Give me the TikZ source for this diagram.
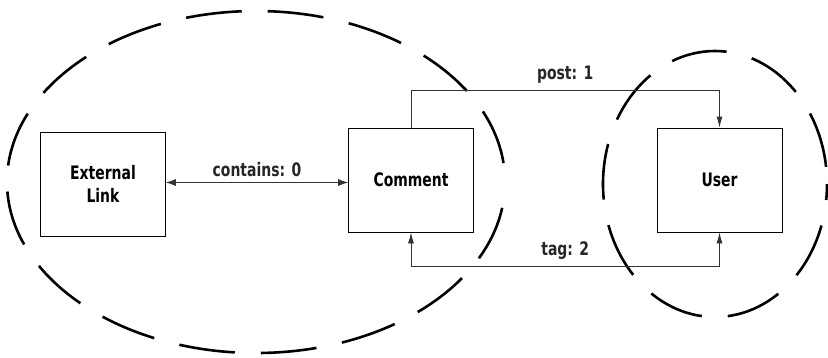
\documentclass[tikz,border=0pt]{standalone}
\usepackage{fontspec}
\setmainfont{DejaVu Sans Condensed}
\usetikzlibrary{arrows.meta}
% tall condensed bold lettering
\newcommand{\tallbf}[1]{\scalebox{1}[1.2]{\bfseries #1}}
\tikzset{
  entity/.style={draw, line width=0.8pt, minimum width=125pt, minimum height=104pt,
    inner sep=0pt, align=center, font=\fontsize{15.5}{22}\selectfont},
  link/.style={draw=black!80, line width=0.8pt},
  tip/.style={-{Latex[length=11pt,width=6pt]}},
  lbl/.style={font=\fontsize{15.5}{18}\selectfont, text=black!85},
  zone/.style={draw, line width=2.6pt, dash pattern=on 56pt off 26pt}
}
\begin{document}
\begin{tikzpicture}[x=1pt,y=-1pt]
  \useasboundingbox (0,0) rectangle (828,357);
  % grouping regions
  \draw[zone, dash phase=56pt] (256,182) ellipse [x radius=249, y radius=171];
  \draw[zone, dash phase=40pt] (715,184) ellipse [x radius=112, y radius=133];
  % entities
  \node[entity] (ext) at (103,184) {\tallbf{External}\\[1pt]\tallbf{Link}};
  \node[entity] (com) at (411,180) {\tallbf{Comment}};
  \node[entity] (usr) at (719.5,180) {\tallbf{User}};
  % relations
  \draw[link, {Latex[length=10pt,width=7pt]}-{Latex[length=10pt,width=7pt]}]
    (ext.east |- 0,182.5) -- node[lbl, above=2pt] {\tallbf{contains: 0}} (com.west |- 0,182.5);
  \coordinate (p1) at (411,90);
  \coordinate (p2) at (719.5,90);
  \draw[link, tip] (com.north) -- (p1) -- node[lbl, above=3pt] {\tallbf{post: 1}} (p2) -- (usr.north);
  \coordinate (t1) at (411,266);
  \coordinate (t2) at (719.5,266);
  \draw[link, tip] (t1) -- (com.south);
  \draw[link, tip] (t1) -- node[lbl, above=3pt] {\tallbf{tag: 2}} (t2) -- (usr.south);
\end{tikzpicture}
\end{document}
